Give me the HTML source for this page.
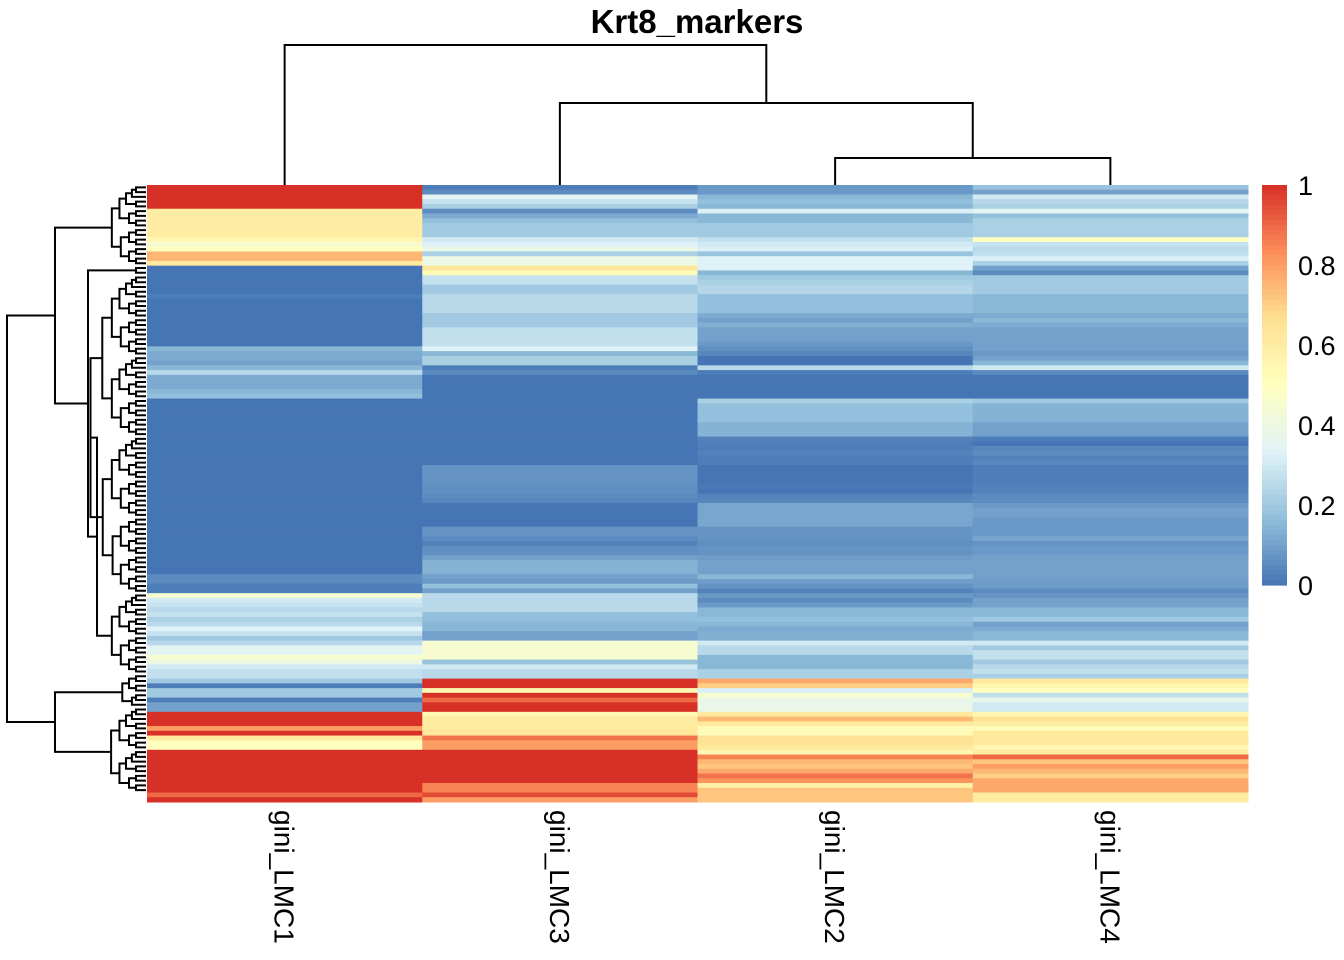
<!DOCTYPE html>
<html><head><meta charset="utf-8"><style>
body{margin:0;background:#fff;}
svg{display:block;font-family:"Liberation Sans",sans-serif;}
</style></head><body>
<svg id="chart" width="1344" height="960" viewBox="0 0 1344 960" xmlns="http://www.w3.org/2000/svg">
<text x="697" y="33" text-anchor="middle" font-size="33" font-weight="bold">Krt8_markers</text>
<g id="cells"></g>
<g id="coldendro" stroke="#000" stroke-width="2" fill="none"></g>
<g id="rowdendro" stroke="#000" stroke-width="2" fill="none"></g>
<g id="legend"></g>
<g id="collabels"></g>
</svg>
<script>
const columns = ["gini_LMC1","gini_LMC3","gini_LMC2","gini_LMC4"];
const legendTicks = [0,0.2,0.4,0.6,0.8,1];
const legendTickLabels = ["0","0.2","0.4","0.6","0.8","1"];
const palette = ["#4575B4","#91BFDB","#E0F3F8","#FFFFBF","#FEE090","#FC8D59","#D73027"];
const rows = [
[1,0.02,0.08,0.18],[1,0.05,0.08,0.1],[1,0.35,0.15,0.3],[1,0.28,0.17,0.24],[1,0.22,0.15,0.22],
[0.6,0.05,0.32,0.35],[0.6,0.12,0.15,0.17],[0.6,0.17,0.15,0.22],[0.6,0.2,0.2,0.22],[0.6,0.2,0.2,0.22],
[0.6,0.2,0.2,0.22],[0.55,0.3,0.27,0.5],[0.45,0.33,0.3,0.28],[0.5,0.38,0.32,0.25],[0.75,0.22,0.18,0.27],
[0.75,0.4,0.33,0.32],[0.62,0.4,0.33,0.22],[0,0.63,0.33,0.1],[0,0.52,0.15,0.05],[0,0.28,0.2,0.2],
[0,0.27,0.22,0.2],[0,0.2,0.24,0.2],[0,0.2,0.24,0.2],[0.02,0.25,0.17,0.15],[0,0.25,0.17,0.15],
[0,0.25,0.17,0.15],[0,0.25,0.17,0.15],[0,0.2,0.12,0.12],[0,0.2,0.1,0.15],[0,0.2,0.13,0.12],
[0,0.27,0.1,0.1],[0,0.27,0.1,0.1],[0,0.27,0.1,0.1],[0,0.27,0.08,0.1],[0.15,0.33,0.06,0.1],
[0.12,0.15,0.04,0.08],[0.12,0.22,0,0.1],[0.1,0.22,0,0.15],[0.15,0.02,0.25,0.3],[0.25,0.05,0.02,0.05],
[0.12,0,0,0],[0.12,0,0,0],[0.12,0,0,0],[0.15,0,0,0],[0.17,0,0,0],
[0,0,0.22,0.2],[0,0,0.17,0.14],[0,0,0.17,0.14],[0,0,0.17,0.14],[0,0,0.17,0.14],
[0,0,0.14,0.1],[0,0,0.14,0.1],[0,0,0.14,0.1],[0,0,0.03,0.02],[0,0,0.02,0],
[0,0,0.02,0.04],[0,0,0.03,0.05],[0,0,0.02,0.03],[0,0,0.02,0.04],[0,0.07,0,0.02],
[0,0.07,0,0.02],[0,0.07,0,0.02],[0,0.07,0,0.02],[0,0.06,0.01,0.03],[0,0.06,0,0.03],
[0,0.05,0.03,0.05],[0,0.04,0.04,0.05],[0,0,0.11,0.08],[0,0,0.11,0.1],[0,0,0.11,0.1],
[0,0,0.11,0.08],[0,0,0.11,0.08],[0,0.07,0.07,0.08],[0,0.07,0.07,0.08],[0,0.05,0.07,0.11],
[0,0.03,0.06,0.07],[0,0.06,0.07,0.08],[0,0.06,0.07,0.08],[0,0.1,0.09,0.1],[0,0.14,0.1,0.1],
[0,0.14,0.1,0.1],[0,0.14,0.1,0.1],[0.05,0.1,0.15,0.1],[0.05,0.08,0.09,0.09],[0.02,0.17,0.07,0.09],
[0.02,0.1,0.03,0.05],[0.45,0.25,0.08,0.07],
[0.3,0.25,0.05,0.1],[0.28,0.25,0.08,0.1],[0.25,0.25,0.15,0.15],[0.28,0.17,0.15,0.15],[0.22,0.17,0.17,0.2],
[0.25,0.15,0.15,0.1],[0.33,0.15,0.12,0.12],[0.28,0.1,0.13,0.15],[0.2,0.1,0.13,0.15],[0.25,0.45,0.3,0.3],
[0.35,0.45,0.25,0.2],[0.35,0.45,0.25,0.27],[0.45,0.45,0.15,0.27],[0.4,0.18,0.15,0.2],[0.3,0.3,0.15,0.25],
[0.27,0.25,0.22,0.27],[0.27,0.25,0.22,0.22],[0.2,1,0.78,0.62],[0.02,1,0.7,0.55],[0.2,0.55,0.32,0.5],
[0.2,1,0.45,0.27],[0.02,0.9,0.38,0.38],[0.1,1,0.38,0.3],[0.1,1,0.38,0.3],[1,0.55,0.62,0.55],
[1,0.6,0.75,0.65],[1,0.6,0.62,0.6],[0.8,0.62,0.52,0.52],[1,0.62,0.52,0.62],[0.62,0.88,0.65,0.62],
[0.5,0.8,0.65,0.62],[0.5,0.8,0.62,0.55],[1,1,0.55,0.6],[1,1,0.85,0.9],[1,1,0.75,0.72],
[1,1,0.72,0.8],[1,1,0.78,0.75],[1,1,0.88,0.7],[1,1,0.82,0.78],[1,0.85,0.58,0.78],
[1,0.85,0.72,0.78],[0.9,0.95,0.72,0.6],[1,0.8,0.72,0.6]
];
const rowGroups = [[0,16],[17,18],[19,85],[86,102],[103,109],[110,127]];

const NS="http://www.w3.org/2000/svg";
const X0=147,X1=1248,Y0=185,Y1=802;
const colW=(X1-X0)/columns.length, rowH=(Y1-Y0)/rows.length;
function hex(c){return [1,3,5].map(i=>parseInt(c.substr(i,2),16));}
function color(v){v=Math.max(0,Math.min(1,v));const t=v*(palette.length-1);const i=Math.min(palette.length-2,Math.floor(t));const f=t-i;
 const a=hex(palette[i]),b=hex(palette[i+1]);return "rgb("+a.map((x,k)=>Math.round(x+(b[k]-x)*f)).join(",")+")";}
function mk(tag,attrs,parent){const e=document.createElementNS(NS,tag);for(const k in attrs)e.setAttribute(k,attrs[k]);parent.appendChild(e);return e;}
const xCol=j=>X0+j*colW, yRow=i=>Y0+i*rowH;

const cells=document.getElementById('cells');
rows.forEach((r,i)=>r.forEach((v,j)=>{
 const el=mk('rect',{x:xCol(j),y:yRow(i),width:colW+0.5,height:rowH+0.5,fill:color(v)},cells);
 
 
}));

const cd=document.getElementById('coldendro');
const cx=j=>xCol(j)+colW/2;
function seg(p,pts){const e=mk('polyline',{points:pts.map(q=>q.join(',')).join(' ')},p);return e;}
const m34=(cx(2)+cx(3))/2, m234=(cx(1)+m34)/2;
seg(cd,[[cx(2),185],[cx(2),158],[cx(3),158],[cx(3),185]]);
seg(cd,[[cx(1),185],[cx(1),103],[m34,103],[m34,158]]);
seg(cd,[[cx(0),185],[cx(0),45],[m234,45],[m234,103]]);

const rd=document.getElementById('rowdendro');
const yc=i=>yRow(i)+rowH/2;
function build(a,b){
 if(a===b) return {y:yc(a),x:X0-1};
 const m=Math.floor((a+b)/2);
 const L=build(a,m),R=build(m+1,b);
 const size=b-a+1;
 const x=X0-4-7*Math.log2(size)-(size>4?size*0.15:0);
 seg(rd,[[L.x,L.y],[x,L.y],[x,R.y],[R.x,R.y]]);
 return {y:(L.y+R.y)/2,x:x};
}
const G=rowGroups.map(g=>build(g[0],g[1]));
function join(L,R,x){seg(rd,[[L.x,L.y],[x,L.y],[x,R.y],[R.x,R.y]]);return {x:x,y:(L.y+R.y)/2};}
const g23=join(G[2],G[3],97);
const g123=join(G[1],g23,88);
const gTop=join(G[0],g123,55);
const gBot=join(G[4],G[5],55);
join(gTop,gBot,7);

const lg=document.getElementById('legend');
const LX=1262,LW=25,LT=185,LB=585,n=80;
for(let k=0;k<n;k++){const v=1-k/n;const e=mk('rect',{x:LX,y:LT+k*(LB-LT)/n,width:LW,height:(LB-LT)/n+0.6,fill:color(v-0.5/n)},lg);
 }
legendTicks.forEach((t,k)=>{const e=mk('text',{x:1298,y:LB-t*(LB-LT)+10,'font-size':27},lg);e.textContent=legendTickLabels[k];
 });

const cl=document.getElementById('collabels');
columns.forEach((c,j)=>{const x=cx(j)-10,y=810;const e=mk('text',{x:x,y:y,'font-size':28,transform:`rotate(90 ${x} ${y})`},cl);e.textContent=c;
 });
</script>
</body></html>
